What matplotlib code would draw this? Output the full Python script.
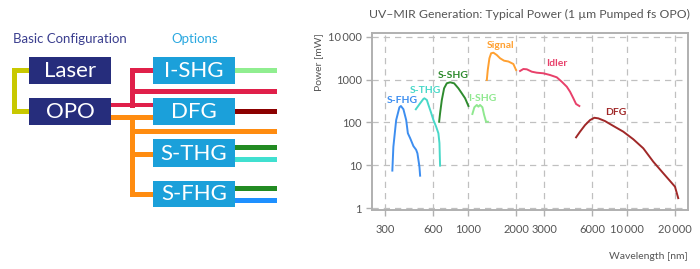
import matplotlib
matplotlib.use('Agg')
import matplotlib.pyplot as plt
from matplotlib.patches import Rectangle
from matplotlib.ticker import FixedLocator, NullLocator

plt.rcParams['font.family'] = ['Lato', 'DejaVu Sans']

# ---- chart data (wavelength nm, power mW) ----
sfhg_wl = [333, 338, 352, 369, 377, 391, 407, 417, 431, 452, 470, 479, 493, 498]
sfhg_pw = [7.5, 27, 114, 227, 243, 204, 114, 56, 43, 28, 23, 19, 9.3, 5.7]
sthg_wl = [468, 498, 522, 530, 549, 562, 581, 604, 628, 649, 659, 665]
sthg_pw = [204, 281, 355, 368, 336, 257, 179, 114, 80, 56, 33, 9.8]
sshg_wl = [656, 665, 682, 705, 733, 769, 815, 867, 911, 956, 1003]
sshg_pw = [104, 164, 336, 631, 826, 871, 826, 631, 482, 368, 243]
ishg_wl = [1062, 1093, 1132, 1159, 1187, 1228, 1259, 1295, 1330]
ishg_pw = [158, 227, 257, 234, 257, 227, 150, 104, 104]
signal_wl = [1309, 1327, 1359, 1393, 1440, 1512, 1587, 1681, 1790, 1923, 2000]
signal_pw = [986, 1690, 3175, 4157, 4295, 3793, 3175, 2790, 2672, 2335, 1690]
idler_wl = [2119, 2223, 2336, 2511, 2700, 2970, 3270, 3606, 3877, 4170, 4372, 4587, 4771, 5001]
idler_pw = [1603, 1784, 1755, 1543, 1462, 1416, 1291, 1141, 900, 688, 525, 368, 271, 243]
dfg_wl = [4771, 5053, 5434, 5842, 6217, 6586, 7256, 8187, 9459, 10937, 12636, 14605, 16878, 18601, 20000, 20960]
dfg_pw = [45, 61, 87, 114, 129, 125, 108, 83, 61, 40.5, 24.9, 12.1, 6.5, 4.3, 3.15, 1.7]

series_names = ['S-FHG', 'S-THG', 'S-SHG', 'I-SHG', 'Signal', 'Idler', 'DFG']
series_colors = ['#3d8ef0', '#48d8c8', '#2e8b2e', '#8fe88f', '#ffa030', '#e8406a', '#a02828']
label_pos = [(382, 324), (535, 546), (800, 1291), (1235, 355), (1587, 6266), (3606, 2427), (8514, 173)]

x_ticks = [300, 600, 1000, 2000, 3000, 6000, 10000, 20000]
x_ticklabels = ['300', '600', '1000', '2000', '3000', '6000', '10\u2009000', '20\u2009000']
y_ticks = [1, 10, 100, 1000, 10000]
y_ticklabels = ['1', '10', '100', '1000', '10\u2009000']

fig = plt.figure(figsize=(7, 2.69), dpi=100)

# ---- left block diagram, in pixel coordinates ----
dg = fig.add_axes([0, 0, 1, 1])
dg.set_xlim(0, 700)
dg.set_ylim(269, 0)
dg.axis('off')

navy = '#262d7c'
cyan = '#1ba0da'
red = '#e0204a'
orange = '#ff8c10'

def bar(x0, x1, y0, y1, c):
    dg.add_patch(Rectangle((x0, y0), x1 - x0, y1 - y0, color=c, lw=0))

# yellow laser -> opo connector
bar(11.5, 16.5, 68, 114, '#c8c800')
bar(11.5, 30, 68, 73, '#c8c800')
bar(11.5, 30, 109, 114, '#c8c800')
# red branch
bar(111, 153, 102.7, 107.5, red)
bar(130, 135, 68.3, 107.5, red)
bar(130, 153, 68.3, 73.3, red)
bar(130, 277, 89, 94, red)
# orange branch
bar(111, 153, 115, 120, orange)
bar(130, 135, 115, 196.7, orange)
bar(130, 277, 129.3, 134.3, orange)
bar(130, 153, 152.3, 157.3, orange)
bar(130, 153, 191.7, 196.7, orange)
# outputs
bar(235, 277, 68.3, 73.3, '#90ee90')
bar(235, 277, 109.3, 114.3, '#8b0000')
bar(235, 277, 145, 150, '#228b22')
bar(235, 277, 156.7, 161.7, '#40e0d0')
bar(235, 277, 185.7, 190.7, '#228b22')
bar(235, 277, 197.7, 202.7, '#1e90ff')

boxes = [('Laser', 29, 111, 56.7, 84.3, navy), ('OPO', 29, 111, 98.3, 125, navy),
         ('I-SHG', 152.7, 235.3, 56.7, 84.3, cyan), ('DFG', 152.7, 235.3, 98.3, 125, cyan),
         ('S-THG', 152.7, 235.3, 139.3, 166.7, cyan), ('S-FHG', 152.7, 235.3, 180.7, 207.3, cyan)]
for name, x0, x1, y0, y1, c in boxes:
    bar(x0, x1, y0, y1, c)
    dg.text((x0 + x1) / 2, (y0 + y1) / 2 + 0.5, name, color='white', fontsize=16,
            ha='center', va='center')

dg.text(70, 39, 'Basic Configuration', color='#3b3f8f', fontsize=9.5, ha='center', va='center')
dg.text(194.5, 39, 'Options', color='#2aa8e0', fontsize=9.5, ha='center', va='center')

# ---- power chart ----
ax = fig.add_axes([372 / 700, 59 / 269, 316 / 700, 177 / 269])
all_wl = [sfhg_wl, sthg_wl, sshg_wl, ishg_wl, signal_wl, idler_wl, dfg_wl]
all_pw = [sfhg_pw, sthg_pw, sshg_pw, ishg_pw, signal_pw, idler_pw, dfg_pw]
for wl, pw, name, c, (lx, ly) in zip(all_wl, all_pw, series_names, series_colors, label_pos):
    ax.plot(wl, pw, color=c, lw=1.4)
    ax.text(lx, ly, name, color=c, fontsize=7.5, fontweight='bold', ha='center', va='center')

ax.set_xscale('log')
ax.set_yscale('log')
ax.set_xlim(248, 24150)
ax.set_ylim(0.898, 12400)
ax.xaxis.set_major_locator(FixedLocator(x_ticks))
ax.xaxis.set_minor_locator(NullLocator())
ax.set_xticklabels(x_ticklabels)
ax.yaxis.set_major_locator(FixedLocator(y_ticks))
ax.yaxis.set_minor_locator(NullLocator())
ax.set_yticklabels(y_ticklabels)
ax.grid(True, color='#c0c0c0', linestyle=(0, (5, 4)), lw=0.9)
for s in ax.spines.values():
    s.set_color('#b0b0b0')
    s.set_linewidth(1.4)
ax.tick_params(colors='#b0b0b0', labelcolor='#555555', labelsize=8, length=4, width=1)
ax.tick_params(axis='x', pad=6)

ax.set_ylabel('Power [mW]', color='#555555', fontsize=7.5, loc='top', labelpad=3)
ax.set_xlabel('Wavelength [nm]', color='#555555', fontsize=7.5, loc='right', labelpad=12)
fig.text(529 / 700, 1 - 14 / 269, 'UV\u2013MIR Generation: Typical Power (1 \u00b5m Pumped fs OPO)',
         color='#555555', fontsize=8.8, ha='center', va='center')

fig.savefig('out.png', dpi=100)
